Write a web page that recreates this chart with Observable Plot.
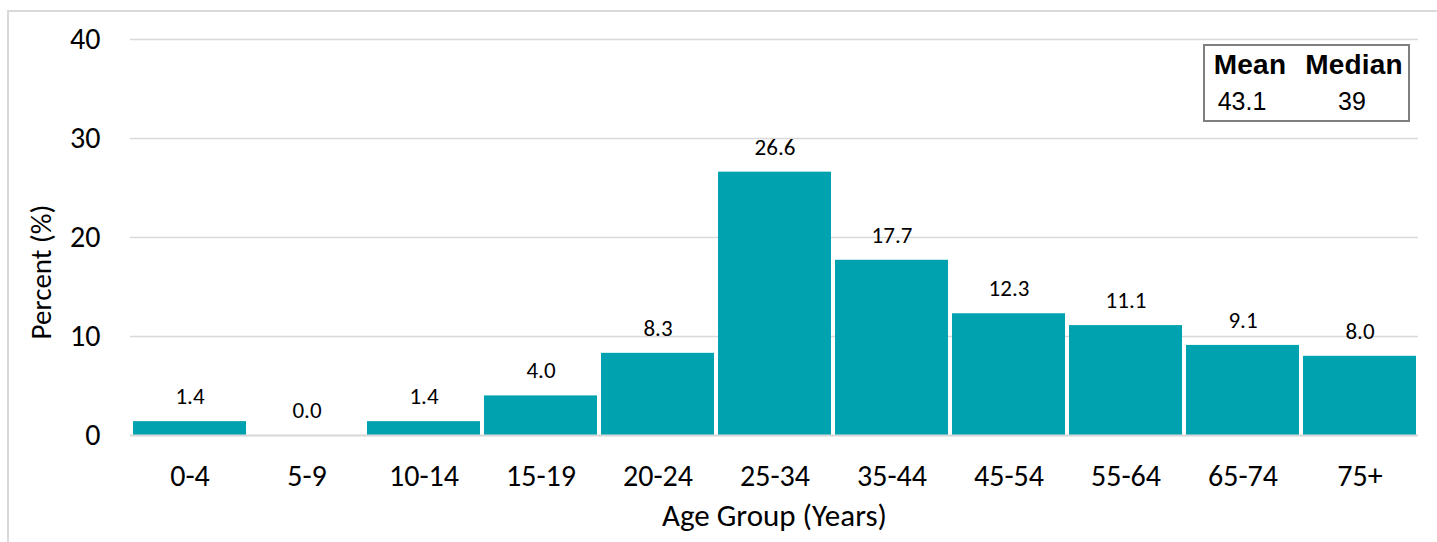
<!DOCTYPE html>
<html>
<head>
<meta charset="utf-8">
<script src="https://cdn.jsdelivr.net/npm/d3@7"></script>
<script src="https://cdn.jsdelivr.net/npm/@observablehq/plot@0.6"></script>
<style>
  html, body { margin: 0; padding: 0; background: #fff; }
  #wrap { position: relative; width: 1437px; height: 542px; overflow: hidden; }
  #frame { position: absolute; left: 7px; top: 10px; width: 1440px; height: 540px; border: 2px solid #d9d9d9; box-sizing: border-box; }
  #chart { position: absolute; left: 0; top: 0; }
  #ytitle { position: absolute; left: 41px; top: 272px; transform: translate(-50%, -50%) rotate(-90deg); white-space: nowrap;
    font-family: Carlito, "Open Sans", sans-serif; font-size: 29px; line-height: 1; color: #000; }
  #stats { position: absolute; left: 1203px; top: 44px; width: 207px; height: 78px; border: 2px solid #7f7f7f; box-sizing: border-box; background: #fff;
    font-family: "Liberation Sans", Arial, sans-serif; color: #000; }
  #stats span { position: absolute; white-space: nowrap; transform: translateX(-50%); line-height: 1; }
  #stats .h { font-size: 28px; font-weight: bold; top: 5px; letter-spacing: 0.2px; }
  #stats .v { font-size: 25px; top: 43px; }
</style>
</head>
<body>
<div id="wrap">
  <div id="frame"></div>
  <div id="chart"></div>
  <div id="ytitle"></div>
  <div id="stats">
    <span class="h" style="left:45px">Mean</span><span class="h" style="left:149px">Median</span>
    <span class="v" id="meanV" style="left:37px"></span><span class="v" id="medV" style="left:147px"></span>
  </div>
</div>
<script>
const ageGroups = ["0-4", "5-9", "10-14", "15-19", "20-24", "25-34", "35-44", "45-54", "55-64", "65-74", "75+"];
const percents = [1.4, 0.0, 1.4, 4.0, 8.3, 26.6, 17.7, 12.3, 11.1, 9.1, 8.0];
const yTicks = [0, 10, 20, 30, 40];
const meanAge = "43.1";
const medianAge = "39";
const xTitle = "Age Group (Years)";
const yTitle = "Percent (%)";

document.getElementById("meanV").textContent = meanAge;
document.getElementById("medV").textContent = medianAge;
document.getElementById("ytitle").textContent = yTitle;

const data = ageGroups.map((g, i) => ({group: g, pct: percents[i]}));
const font = "Carlito, 'Open Sans', 'Noto Sans', sans-serif";

const chart = Plot.plot({
  width: 1437,
  height: 542,
  marginLeft: 130,
  marginRight: 19,
  marginTop: 39,
  marginBottom: 107,
  style: {fontFamily: font, fontSize: "22px", color: "#000", background: "transparent"},
  x: {domain: ageGroups, paddingInner: 0.035, paddingOuter: 0.01},
  y: {domain: [0, 40]},
  marks: [
    Plot.gridY(yTicks, {stroke: "#d9d9d9", strokeOpacity: 1, strokeWidth: 1.5}),
    Plot.barY(data, {x: "group", y: "pct", fill: "#00A2B0"}),
    Plot.ruleY([0], {stroke: "#d9d9d9", strokeWidth: 2}),
    Plot.text(data, {x: "group", y: "pct", text: d => d.pct.toFixed(1), dy: -25, fontSize: 23, fill: "#000"}),
    Plot.axisY({ticks: yTicks, tickSize: 0, tickPadding: 30, fontSize: 30, label: null}),
    Plot.axisX({tickSize: 0, tickPadding: 29, fontSize: 30, label: null, ariaLabel: "x-axis tick label"}),
    Plot.text([xTitle], {frameAnchor: "bottom", dy: 90, fontSize: 31, fill: "#000"})
  ]
});
document.getElementById("chart").appendChild(chart);
// the reference's category labels are drawn horizontally condensed
d3.select(chart).selectAll("g[aria-label='x-axis tick label'] text").each(function() {
  const w = this.getComputedTextLength();
  this.setAttribute("textLength", (w * 0.76).toFixed(1));
  this.setAttribute("lengthAdjust", "spacingAndGlyphs");
});
</script>
</body>
</html>
